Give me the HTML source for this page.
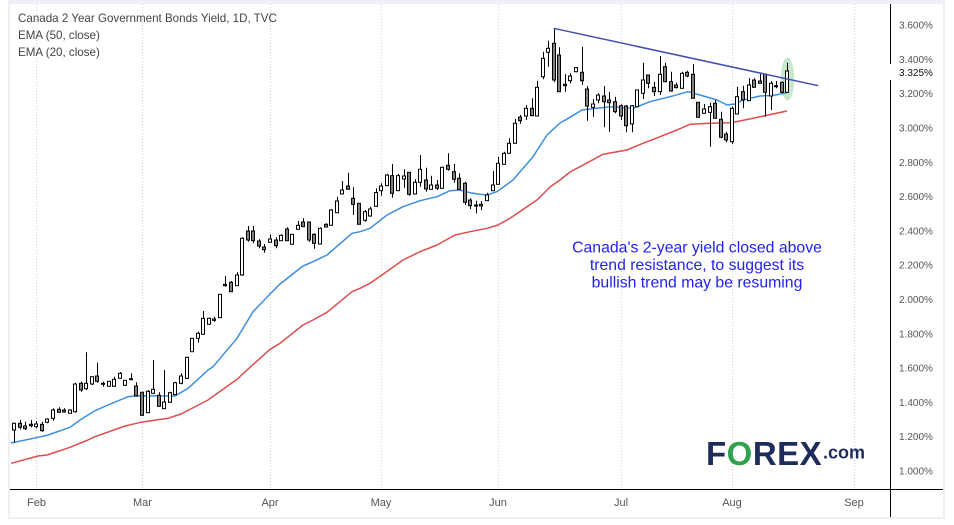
<!DOCTYPE html>
<html><head><meta charset="utf-8"><style>
html,body{margin:0;padding:0;background:#fff;width:954px;height:525px;overflow:hidden}
svg{display:block}
text{font-family:"Liberation Sans",Arial,sans-serif}
</style></head><body>
<svg width="954" height="525" viewBox="0 0 954 525" xmlns="http://www.w3.org/2000/svg">
<rect x="0" y="0" width="954" height="525" fill="#fff"/>
<!-- frame -->
<rect x="8" y="0" width="937" height="4" fill="#eef0f5"/>
<rect x="8" y="0" width="2" height="519" fill="#eef0f5"/>
<rect x="943" y="0" width="2" height="519" fill="#eef0f5"/>
<rect x="8" y="517" width="937" height="2" fill="#eef0f5"/>
<!-- grid -->
<g stroke="#cfcfcf" stroke-width="1" stroke-dasharray="1 2">
<path d="M36.5 4V489M142.5 4V489M270.5 4V489M381.5 4V489M498.5 4V489M621.5 4V489M732.5 4V489M854.5 4V489"/>
</g>
<!-- legend -->
<g font-size="11.6" fill="#444">
<text x="18" y="22">Canada 2 Year Government Bonds Yield, 1D, TVC</text>
<text x="18" y="39">EMA (50, close)</text>
<text x="18" y="56">EMA (20, close)</text>
</g>
<!-- EMA 50 red -->
<polyline fill="none" stroke="#e04c4c" stroke-width="1.5" stroke-linejoin="round" points="11,463.3 38,456 47,455 70,447.3 88,440 95,436.7 125,426 141,422.3 168,418.3 181,414 208,400 237,379.3 247,370 270,349.3 280,343.3 303,325 313,320 327,312.3 352,291.7 360,288.3 370,283.3 382,275 403,260 420,251.7 437,245 455,235 470,231.7 487,228.3 498,225 510,218.3 537,200 550,187 560,180 570,172 603,154.3 627,150 643,143.3 660,136.7 677,130 690,124.3 710,123.3 730,122.7 740,121 787,111"/>
<!-- EMA 20 blue -->
<polyline fill="none" stroke="#3d8ee0" stroke-width="1.5" stroke-linejoin="round" points="11,443 41,436.7 48,435 70,427.3 80,420 95,410.7 108,405 128,396.7 136,395.7 175,396 188,388.3 198,379.3 208,370 213,366.7 237,338.3 253,311.7 270,294 280,284 303,266 313,261.7 327,255 352,233.3 360,231.7 370,228.3 387,215 403,206.7 420,200.7 437,196.7 450,190.7 460,190 470,192.7 480,194.3 487,195 497,191.7 513,180 533,156.7 547,135 560,123 570,117.3 582,110 610,106.7 633,108.3 650,101.7 670,96.7 688,91.7 700,95 717,100 727,105 735,104 743,100 760,96 773,95.5 787,92.7"/>
<!-- highlight ellipse -->
<ellipse cx="787.5" cy="79" rx="6.7" ry="21.5" fill="rgba(76,175,80,0.3)"/>
<!-- wicks -->
<path fill="none" stroke="#000" stroke-width="1" d="M14.5 422.7V442.7M20.5 420V429.3M25.5 421.7V430M31.5 420V427.3M36.5 421V428.3M42.5 421.7V431.7M47.5 418.3V423.3M53.5 408.3V420.7M59.5 407.3V412.3M64.5 408.3V412.7M70.5 409.3V413.3M75.5 382.7V412.7M81.5 381.7V391.7M86.5 352.3V390M92.5 376.7V385M97.5 362.7V382.7M103.5 381.7V386.7M109.5 381V386.3M114.5 376.7V386.7M120.5 372V378.7M125.5 380V386M131.5 373.3V379.7M136.5 382.3V396.7M142.5 391.7V416M148.5 390V412.7M153.5 360V394M159.5 392.3V406.7M164.5 370V408.7M170.5 391.7V402.7M175.5 381.7V395M181.5 373.3V384.3M187.5 356.7V379M192.5 338V352M198.5 331.7V342.7M203.5 311V334.3M209.5 317.7V325M214.5 316.7V321.7M220.5 294V318M225.5 276V286.7M231.5 281V291.7M237.5 272.3V285.7M242.5 237.3V275.7M248.5 226V241.7M253.5 226V243.3M259.5 239.3V248.3M264.5 244V252.7M270.5 234.3V242.3M276.5 237.3V248.3M281.5 234.3V240.7M287.5 227.3V240.7M292.5 234V244.3M298.5 221V229.3M303.5 218.3V226.7M309.5 222V241.7M314.5 233.3V248.7M320.5 227.3V244M326.5 223.3V227.3M331.5 209V225.3M337.5 196.7V212.7M342.5 181V194M348.5 172.7V189.3M353.5 187.3V215M359.5 203.3V224.3M365.5 210V221.7M370.5 206.7V216.7M376.5 188.3V206.7M381.5 183.3V195.7M387.5 174V185.7M392.5 164V197.7M398.5 174V190.7M404.5 169.3V187.7M409.5 172.3V195.7M415.5 179.3V194M420.5 155V186.7M426.5 167.7V191.7M431.5 175.7V189.3M437.5 180V190M442.5 166.7V188.3M448.5 153.3V170.7M454.5 164V182.7M459.5 173.3V189.3M465.5 181.7V205M470.5 198.3V209M476.5 200.7V213.3M481.5 201V210M487.5 192.7V200.7M493.5 171V190.7M498.5 156.7V184.3M504.5 151.7V164.3M509.5 138.3V153.3M515.5 119V143.3M520.5 115V123.7M526.5 105V120M532.5 98.3V115.7M537.5 80.7V116M543.5 51.7V79.3M548.5 40.7V66.7M554.5 28.3V82.3M559.5 47.3V91.7M565.5 74V91.7M570.5 73.3V83.3M576.5 67V72.3M582.5 46.7V85M587.5 86V120.7M593.5 99V116.7M598.5 93.3V103.3M604.5 86V127.3M609.5 91.7V131.7M615.5 96.7V113.3M621.5 104.3V120M626.5 105V132.3M632.5 105V132.3M637.5 90V106.7M643.5 62.7V99M648.5 75V88.3M654.5 81.7V96M660.5 56V95M665.5 62.7V82.3M671.5 71.7V91.7M676.5 82.7V88.3M682.5 71.7V88.3M687.5 70.7V77.3M693.5 64.3V98.3M698.5 102.3V117.3M704.5 104V113.3M710.5 102.7V146.7M715.5 100V118.3M721.5 111.7V138.3M726.5 131.7V142.3M732.5 106.7V144M737.5 86.7V114.3M743.5 85.7V108.3M749.5 78.3V100.7M754.5 78.3V87.3M760.5 74V83.3M765.5 74V116.7M771.5 81V110M776.5 81V88.3M782.5 81.7V93.3M787.5 62.7V92.3"/>
<!-- up candles -->
<g fill="#fff" stroke="#000" stroke-width="1">
<rect x="12.5" y="423.3" width="3" height="6.7"/>
<rect x="34.5" y="424" width="3" height="2.7"/>
<rect x="45.5" y="419" width="3" height="3.3"/>
<rect x="51.5" y="410" width="3" height="8.3"/>
<rect x="68.5" y="410" width="3" height="3.3"/>
<rect x="73.5" y="384" width="3" height="27.7"/>
<rect x="84.5" y="383.3" width="3" height="5.4"/>
<rect x="90.5" y="376.7" width="3" height="7.3"/>
<rect x="107.5" y="381.3" width="3" height="5"/>
<rect x="112.5" y="379.3" width="3" height="7"/>
<rect x="118.5" y="373.3" width="3" height="5"/>
<rect x="123.5" y="380.3" width="3" height="5"/>
<rect x="146.5" y="391.3" width="3" height="21.4"/>
<rect x="151.5" y="389.3" width="3" height="4"/>
<rect x="162.5" y="402" width="3" height="6.7"/>
<rect x="168.5" y="392.7" width="3" height="9.6"/>
<rect x="173.5" y="382.7" width="3" height="12"/>
<rect x="179.5" y="376" width="3" height="7.3"/>
<rect x="185.5" y="357.3" width="3" height="21"/>
<rect x="190.5" y="338.3" width="3" height="13.4"/>
<rect x="196.5" y="333.3" width="3" height="5"/>
<rect x="201.5" y="318.3" width="3" height="16"/>
<rect x="207.5" y="318.3" width="3" height="6"/>
<rect x="212.5" y="319" width="3" height="1.3"/>
<rect x="218.5" y="294.3" width="3" height="23.4"/>
<rect x="235.5" y="275" width="3" height="10.7"/>
<rect x="240.5" y="238.3" width="3" height="36.7"/>
<rect x="268.5" y="239" width="3" height="3.3"/>
<rect x="279.5" y="235.3" width="3" height="5.4"/>
<rect x="290.5" y="234.3" width="3" height="10"/>
<rect x="296.5" y="225.3" width="3" height="4"/>
<rect x="318.5" y="228.3" width="3" height="15.7"/>
<rect x="329.5" y="210" width="3" height="15.3"/>
<rect x="335.5" y="201" width="3" height="11.7"/>
<rect x="340.5" y="190" width="3" height="4"/>
<rect x="363.5" y="211.7" width="3" height="8.6"/>
<rect x="368.5" y="209" width="3" height="7"/>
<rect x="374.5" y="192.5" width="3" height="13.8"/>
<rect x="379.5" y="186" width="3" height="4.7"/>
<rect x="385.5" y="175" width="3" height="10.7"/>
<rect x="396.5" y="175.7" width="3" height="15"/>
<rect x="402.5" y="176" width="3" height="3"/>
<rect x="413.5" y="182.3" width="3" height="11.7"/>
<rect x="418.5" y="169.3" width="3" height="13"/>
<rect x="429.5" y="185" width="3" height="4.3"/>
<rect x="440.5" y="167.3" width="3" height="21"/>
<rect x="485.5" y="195" width="3" height="5.7"/>
<rect x="491.5" y="185" width="3" height="5.7"/>
<rect x="496.5" y="163.3" width="3" height="21"/>
<rect x="502.5" y="153.3" width="3" height="11"/>
<rect x="507.5" y="143.3" width="3" height="10"/>
<rect x="513.5" y="123.3" width="3" height="20"/>
<rect x="524.5" y="108.3" width="3" height="7.7"/>
<rect x="535.5" y="87.3" width="3" height="28.7"/>
<rect x="541.5" y="58.3" width="3" height="18.4"/>
<rect x="546.5" y="48.3" width="3" height="4"/>
<rect x="568.5" y="76" width="3" height="4.7"/>
<rect x="574.5" y="67.7" width="3" height="4"/>
<rect x="591.5" y="104" width="3" height="3.3"/>
<rect x="596.5" y="95" width="3" height="5"/>
<rect x="630.5" y="105.7" width="3" height="18.3"/>
<rect x="635.5" y="90" width="3" height="16.7"/>
<rect x="641.5" y="80" width="3" height="13.3"/>
<rect x="658.5" y="74.3" width="3" height="17.4"/>
<rect x="680.5" y="73.3" width="3" height="15"/>
<rect x="702.5" y="109" width="3" height="4.3"/>
<rect x="708.5" y="106.7" width="3" height="5.6"/>
<rect x="730.5" y="108.3" width="3" height="33.4"/>
<rect x="735.5" y="96.7" width="3" height="17.3"/>
<rect x="747.5" y="85" width="3" height="15.7"/>
<rect x="769.5" y="83.3" width="3" height="12.7"/>
<rect x="785.5" y="71" width="3" height="21.3"/>
</g>
<!-- down candles -->
<g fill="#808080" stroke="#000" stroke-width="1">
<rect x="18.5" y="423.3" width="3" height="4"/>
<rect x="23.5" y="426" width="3" height="2.7"/>
<rect x="29.5" y="424.3" width="3" height="1.4"/>
<rect x="40.5" y="424.3" width="3" height="6.4"/>
<rect x="57.5" y="409.3" width="3" height="3"/>
<rect x="62.5" y="410" width="3" height="2"/>
<rect x="79.5" y="383.3" width="3" height="6.7"/>
<rect x="95.5" y="376" width="3" height="5.3"/>
<rect x="101.5" y="383.3" width="3" height="1"/>
<rect x="129.5" y="378.7" width="3" height="1"/>
<rect x="134.5" y="386" width="3" height="10"/>
<rect x="140.5" y="392.3" width="3" height="23"/>
<rect x="157.5" y="395.3" width="3" height="11"/>
<rect x="223.5" y="284.3" width="3" height="1.4"/>
<rect x="229.5" y="282.3" width="3" height="9.4"/>
<rect x="246.5" y="231" width="3" height="9"/>
<rect x="251.5" y="231" width="3" height="9.7"/>
<rect x="257.5" y="241" width="3" height="5"/>
<rect x="262.5" y="247" width="3" height="2.7"/>
<rect x="274.5" y="240" width="3" height="5.7"/>
<rect x="285.5" y="229" width="3" height="11.7"/>
<rect x="301.5" y="222" width="3" height="4.7"/>
<rect x="307.5" y="222" width="3" height="18"/>
<rect x="312.5" y="234.3" width="3" height="9"/>
<rect x="324.5" y="224.3" width="3" height="2.7"/>
<rect x="346.5" y="186" width="3" height="3.3"/>
<rect x="351.5" y="198.3" width="3" height="6"/>
<rect x="357.5" y="203.3" width="3" height="21"/>
<rect x="390.5" y="175.7" width="3" height="17.6"/>
<rect x="407.5" y="172.3" width="3" height="22"/>
<rect x="424.5" y="180" width="3" height="9"/>
<rect x="435.5" y="185" width="3" height="3.3"/>
<rect x="446.5" y="165.3" width="3" height="4"/>
<rect x="452.5" y="171.7" width="3" height="7.6"/>
<rect x="457.5" y="178.3" width="3" height="11"/>
<rect x="463.5" y="183.3" width="3" height="19"/>
<rect x="468.5" y="200" width="3" height="5.7"/>
<rect x="474.5" y="205" width="3" height="1"/>
<rect x="479.5" y="204.3" width="3" height="1.7"/>
<rect x="518.5" y="117" width="3" height="3.7"/>
<rect x="530.5" y="108.3" width="3" height="7.4"/>
<rect x="552.5" y="43.3" width="3" height="36.7"/>
<rect x="557.5" y="55" width="3" height="36.7"/>
<rect x="563.5" y="84.3" width="3" height="1.4"/>
<rect x="580.5" y="72.3" width="3" height="8.4"/>
<rect x="585.5" y="89" width="3" height="17"/>
<rect x="602.5" y="96" width="3" height="5.7"/>
<rect x="607.5" y="100" width="3" height="2.7"/>
<rect x="613.5" y="101.7" width="3" height="10"/>
<rect x="619.5" y="105.7" width="3" height="10.3"/>
<rect x="624.5" y="106" width="3" height="19.7"/>
<rect x="646.5" y="75" width="3" height="8.3"/>
<rect x="652.5" y="87.3" width="3" height="4.4"/>
<rect x="663.5" y="66.7" width="3" height="15"/>
<rect x="669.5" y="81.7" width="3" height="9.3"/>
<rect x="674.5" y="85" width="3" height="2.7"/>
<rect x="685.5" y="72.3" width="3" height="3.7"/>
<rect x="691.5" y="74.3" width="3" height="24"/>
<rect x="696.5" y="102.3" width="3" height="15"/>
<rect x="713.5" y="103.3" width="3" height="15"/>
<rect x="719.5" y="119.3" width="3" height="18"/>
<rect x="724.5" y="134" width="3" height="6"/>
<rect x="741.5" y="91.7" width="3" height="8.3"/>
<rect x="752.5" y="80" width="3" height="7.3"/>
<rect x="758.5" y="81" width="3" height="2.3"/>
<rect x="763.5" y="74" width="3" height="18.3"/>
<rect x="774.5" y="85.7" width="3" height="1"/>
<rect x="780.5" y="82.3" width="3" height="10"/>
</g>
<!-- trend line -->
<line x1="553.7" y1="28.3" x2="818.3" y2="85.7" stroke="#3f4fb0" stroke-width="1.5"/>
<!-- annotation -->
<g font-size="15.8" fill="#2222ee" text-anchor="middle">
<text x="697" y="252.5">Canada's 2-year yield closed above</text>
<text x="697" y="270">trend resistance, to suggest its</text>
<text x="697" y="287.3">bullish trend may be resuming</text>
</g>
<!-- logo -->
<text x="706" y="465" font-size="33" font-weight="bold" fill="#1e2c5b" letter-spacing="0.5">F<tspan fill="#2ea24d">O</tspan>REX</text>
<text x="823" y="458.5" font-size="18" font-weight="bold" fill="#1e2c5b">.com</text>
<!-- axes -->
<line x1="10" y1="489.5" x2="943" y2="489.5" stroke="#000" stroke-width="1"/>
<line x1="890.5" y1="4" x2="890.5" y2="517" stroke="#000" stroke-width="1"/>
<!-- price labels -->
<rect x="889" y="64" width="54" height="16" fill="#fff"/>
<g font-size="10" fill="#555">
<text x="899" y="28.6">3.600%</text>
<text x="899" y="62.9">3.400%</text>
<text x="899" y="97.2">3.200%</text>
<text x="899" y="131.5">3.000%</text>
<text x="899" y="165.8">2.800%</text>
<text x="899" y="200.1">2.600%</text>
<text x="899" y="234.4">2.400%</text>
<text x="899" y="268.7">2.200%</text>
<text x="899" y="303">2.000%</text>
<text x="899" y="337.3">1.800%</text>
<text x="899" y="371.6">1.600%</text>
<text x="899" y="405.9">1.400%</text>
<text x="899" y="440.2">1.200%</text>
<text x="899" y="474.5">1.000%</text>
</g>
<text x="899" y="75.8" font-size="10" fill="#111">3.325%</text>
<!-- time labels -->
<g font-size="11" fill="#555" text-anchor="middle">
<text x="36.5" y="506">Feb</text>
<text x="142.5" y="506">Mar</text>
<text x="270" y="506">Apr</text>
<text x="381" y="506">May</text>
<text x="498" y="506">Jun</text>
<text x="621" y="506">Jul</text>
<text x="732" y="506">Aug</text>
<text x="854" y="506">Sep</text>
</g>
</svg>
</body></html>
